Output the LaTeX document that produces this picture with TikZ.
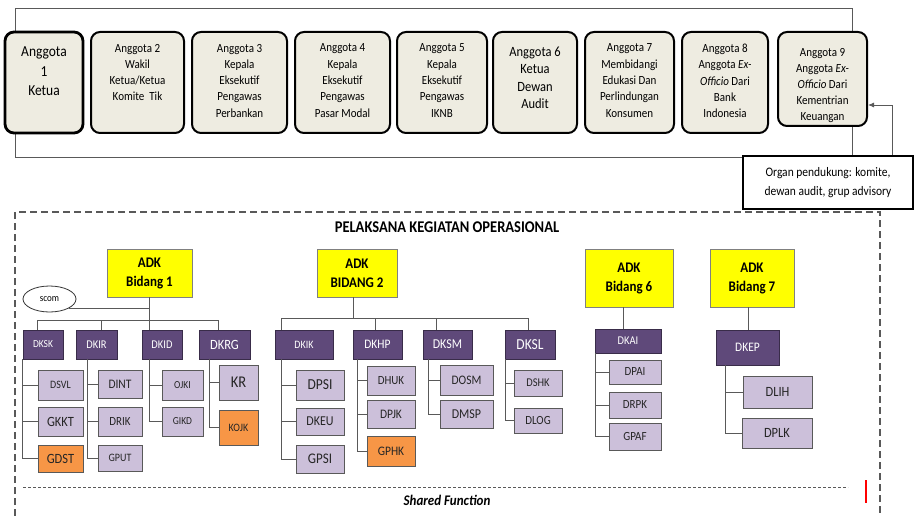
\documentclass[tikz,border=0pt]{standalone}
\usepackage{fontspec}
\setmainfont[Scale=1.13, FakeStretch=0.885]{Carlito}
\usepackage{tikz}
\usetikzlibrary{arrows.meta,shapes.geometric}

\definecolor{boxbeige}{HTML}{EEECE1}
\definecolor{adkyellow}{HTML}{FFFF00}
\definecolor{dkpurple}{HTML}{5F497A}
\definecolor{sublilac}{HTML}{CCC0DA}
\definecolor{suborange}{HTML}{F79646}
\definecolor{linegray}{HTML}{595959}

\begin{document}
\begin{tikzpicture}[x=1pt, y=-1pt,
  conn/.style={draw=linegray, line width=0.8pt},
  anggota/.style={draw=black, fill=boxbeige, rounded corners=9pt, line width=2pt, minimum height=101pt, inner sep=0pt},
  adkbox/.style={draw=gray, fill=adkyellow, line width=0.8pt, align=center, inner sep=0pt, font=\bfseries\fontsize{13}{19}\selectfont},
  dkbox/.style={draw=dkpurple!60!black, fill=dkpurple, text=white, line width=0.8pt, inner sep=0pt},
  subbox/.style={draw=linegray, fill=sublilac, line width=0.9pt, inner sep=0pt, text=black!85},
  subhot/.style={subbox, fill=suborange},
  fsz/.style={font=\fontsize{#1}{#1}\selectfont}]
\useasboundingbox (0,0) rectangle (915,516);
%%%%% Top board %%%%%
\node[draw=linegray, line width=0.8pt, minimum width=837pt, minimum height=149pt, inner sep=0pt] (board) at (433.5,82.5) {};
\node[anggota, line width=2.8pt, minimum width=78pt] (a1) at (44,82.5)
  {\parbox[c][71pt][t]{74pt}{\centering\fontsize{13.5}{19.5}\selectfont Anggota\\1\\Ketua}};
\node[anggota, minimum width=93pt] (a2) at (137.5,82.5)
  {\parbox[c][77pt][t]{88pt}{\centering\fontsize{11}{16.3}\selectfont Anggota 2\\Wakil\\Ketua/Ketua\\Komite\ \ Tik}};
\node[anggota, minimum width=95pt] (a3) at (239.5,82.5)
  {\parbox[c][77pt][t]{90pt}{\centering\fontsize{11}{16.3}\selectfont Anggota 3\\Kepala\\Eksekutif\\Pengawas\\Perbankan}};
\node[anggota, minimum width=95pt] (a4) at (342.5,82.5)
  {\parbox[c][77pt][t]{90pt}{\centering\fontsize{11}{16.3}\selectfont Anggota 4\\Kepala\\Eksekutif\\Pengawas\\Pasar Modal}};
\node[anggota, minimum width=90pt] (a5) at (442,82.5)
  {\parbox[c][77pt][t]{86pt}{\centering\fontsize{11}{16.3}\selectfont Anggota 5\\Kepala\\Eksekutif\\Pengawas\\IKNB}};
\node[anggota, minimum width=84pt] (a6) at (535,82.5)
  {\parbox[c][72pt][t]{80pt}{\centering\fontsize{12.5}{17.5}\selectfont Anggota 6\\Ketua\\Dewan\\Audit}};
\node[anggota, minimum width=89pt] (a7) at (629.5,82.5)
  {\parbox[c][77pt][t]{86pt}{\centering\fontsize{11}{16.3}\selectfont Anggota 7\\Membidangi\\Edukasi Dan\\Perlindungan\\Konsumen}};
\node[anggota, minimum width=86pt] (a8) at (725,82.5)
  {\parbox[c][77pt][t]{82pt}{\centering\fontsize{11}{16.3}\selectfont Anggota 8\\Anggota \textit{Ex-}\\\textit{Officio} Dari\\Bank\\Indonesia}};
\node[anggota, minimum width=89pt, minimum height=94pt] (a9) at (822.5,79)
  {\parbox[c][62pt][t]{85pt}{\centering\fontsize{11}{16}\selectfont Anggota 9\\Anggota \textit{Ex-}\\\textit{Officio} Dari\\Kementrian\\Keuangan}};
%%%%% Organ pendukung %%%%%
\node[draw=black, fill=white, line width=2.5pt, minimum width=170pt, minimum height=53pt, align=center,
  font=\fontsize{11.5}{19}\selectfont] (organ) at (828,182.5) {Organ pendukung: komite,\\dewan audit, grup advisory};
\draw[conn, -{Latex[length=6pt,width=5pt]}] ([xshift=-22pt]organ.north east) |- ([yshift=-26pt]a9.east);
%%%%% Pelaksana frame %%%%%
\draw[draw=linegray, line width=1.2pt, dash pattern=on 7pt off 4pt] (15,516) -- (15,212) -- (880,212) -- (880,516);
\node[font=\bfseries\fontsize{14.5}{14.5}\selectfont] (judul) at (447,227) {PELAKSANA KEGIATAN OPERASIONAL};
\draw[draw=linegray, line width=0.7pt, dash pattern=on 3pt off 2pt] (23,487) -- (848,487);
\node[font=\bfseries\itshape\fontsize{13}{13}\selectfont] (shared) at (447,500) {Shared Function};
\draw[red, line width=1.3pt] (866,480) -- (866,503);
%%%%% ADK Bidang 1 %%%%%
\node[adkbox, minimum width=85pt, minimum height=48pt] (adk1) at (149.5,273) {ADK\\Bidang 1};
\node[draw=black!80, line width=0.8pt, ellipse, minimum width=53pt, minimum height=26pt, inner sep=0pt, fsz=9] (scom) at (49.5,299) {scom};
\node[dkbox, minimum width=40pt, minimum height=29pt, fsz=9.5] (dksk) at (43,344.5) {DKSK};
\node[dkbox, minimum width=41pt, minimum height=29pt, fsz=10.5] (dkir) at (96.5,344.5) {DKIR};
\node[dkbox, minimum width=40pt, minimum height=29pt, fsz=10.5] (dkid) at (162,344.5) {DKID};
\node[dkbox, minimum width=51pt, minimum height=29pt, fsz=12.5] (dkrg) at (224.5,344.5) {DKRG};
\node[subbox, minimum width=45pt, minimum height=30pt, fsz=10] (dsvl) at (60.5,385) {DSVL};
\node[subbox, minimum width=45pt, minimum height=29pt, fsz=12.5] (gkkt) at (60.5,421.5) {GKKT};
\node[subhot, minimum width=45pt, minimum height=27pt, fsz=12.5] (gdst) at (60.5,458.5) {GDST};
\node[subbox, minimum width=44pt, minimum height=28pt, fsz=11.5] (dint) at (120,384) {DINT};
\node[subbox, minimum width=44pt, minimum height=29pt, fsz=11] (drik) at (120,421.5) {DRIK};
\node[subbox, minimum width=44pt, minimum height=26pt, fsz=10] (gput) at (120,458) {GPUT};
\node[subbox, minimum width=41pt, minimum height=30pt, fsz=9.5] (ojki) at (182.5,385) {OJKI};
\node[subbox, minimum width=41pt, minimum height=29pt, fsz=9.5] (gikd) at (182.5,421.5) {GIKD};
\node[subbox, minimum width=39pt, minimum height=35pt, fsz=14.5] (kr) at (238.5,382.5) {KR};
\node[subhot, minimum width=39pt, minimum height=35pt, fsz=10] (kojk) at (238.5,427.5) {KOJK};
\draw[conn] (adk1.south) -- ++(0,23) coordinate (bus1);
\draw[conn] (scom.south east) -- (scom.south east -| adk1.south);
\draw[conn] (bus1) -| ([xshift=15pt]dksk.north west);
\draw[conn] (bus1) -| ([xshift=26pt]dkir.north west);
\draw[conn] (bus1) -| ([xshift=8pt]dkid.north west);
\draw[conn] (bus1) -| ([xshift=20pt]dkrg.north west);
\draw[conn] (dksk.south west) |- (dsvl.west);
\draw[conn] (dksk.south west) |- (gkkt.west);
\draw[conn] (dksk.south west) |- (gdst.west);
\draw[conn] ([xshift=12pt]dkir.south west) |- (dint.west);
\draw[conn] ([xshift=12pt]dkir.south west) |- (drik.west);
\draw[conn] ([xshift=12pt]dkir.south west) |- (gput.west);
\draw[conn] ([xshift=8pt]dkid.south west) |- (ojki.west);
\draw[conn] ([xshift=8pt]dkid.south west) |- (gikd.west);
\draw[conn] ([xshift=11pt]dkrg.south west) |- (kr.west);
\draw[conn] ([xshift=11pt]dkrg.south west) |- (kojk.west);
%%%%% ADK Bidang 2 %%%%%
\node[adkbox, minimum width=80pt, minimum height=48pt] (adk2) at (357,273) {ADK\\BIDANG 2};
\node[dkbox, minimum width=58pt, minimum height=29pt, fsz=10] (dkik) at (304,344.5) {DKIK};
\node[dkbox, minimum width=49pt, minimum height=29pt, fsz=11.5] (dkhp) at (377.5,344.5) {DKHP};
\node[dkbox, minimum width=49pt, minimum height=29pt, fsz=12] (dksm) at (447.5,344.5) {DKSM};
\node[dkbox, minimum width=50pt, minimum height=29pt, fsz=13.5] (dksl) at (530,344.5) {DKSL};
\node[subbox, minimum width=48pt, minimum height=30pt, fsz=13.5] (dpsi) at (320,385) {DPSI};
\node[subbox, minimum width=48pt, minimum height=27pt, fsz=12] (dkeu) at (320,421.5) {DKEU};
\node[subbox, minimum width=48pt, minimum height=28pt, fsz=13] (gpsi) at (320,459) {GPSI};
\node[subbox, minimum width=48pt, minimum height=29pt, fsz=11] (dhuk) at (391,380.5) {DHUK};
\node[subbox, minimum width=48pt, minimum height=28pt, fsz=11.5] (dpjk) at (391,414) {DPJK};
\node[subhot, minimum width=48pt, minimum height=30pt, fsz=11.5] (gphk) at (391,451) {GPHK};
\node[subbox, minimum width=53pt, minimum height=30pt, fsz=11.5] (dosm) at (466.5,380) {DOSM};
\node[subbox, minimum width=53pt, minimum height=28pt, fsz=12] (dmsp) at (466.5,414) {DMSP};
\node[subbox, minimum width=48pt, minimum height=26pt, fsz=10.5] (dshk) at (538,383) {DSHK};
\node[subbox, minimum width=48pt, minimum height=25pt, fsz=11] (dlog) at (538,420.5) {DLOG};
\draw[conn] ([xshift=-4pt]adk2.south) -- ++(0,21) coordinate (bus2);
\draw[conn] (bus2) -| ([xshift=7pt]dkik.north west);
\draw[conn] (bus2) -| ([xshift=23pt]dkhp.north west);
\draw[conn] (bus2) -| ([xshift=14pt]dksm.north west);
\draw[conn] (bus2) -| ([xshift=24pt]dksl.north west);
\draw[conn] ([xshift=7pt]dkik.south west) |- (dpsi.west);
\draw[conn] ([xshift=7pt]dkik.south west) |- (dkeu.west);
\draw[conn] ([xshift=7pt]dkik.south west) |- (gpsi.west);
\draw[conn] ([xshift=5pt]dkhp.south west) |- (dhuk.west);
\draw[conn] ([xshift=5pt]dkhp.south west) |- (dpjk.west);
\draw[conn] ([xshift=5pt]dkhp.south west) |- (gphk.west);
\draw[conn] ([xshift=6pt]dksm.south west) |- (dosm.west);
\draw[conn] ([xshift=6pt]dksm.south west) |- (dmsp.west);
\draw[conn] ([xshift=1pt]dksl.south west) |- (dshk.west);
\draw[conn] ([xshift=1pt]dksl.south west) |- (dlog.west);
%%%%% ADK Bidang 6 %%%%%
\node[adkbox, minimum width=88pt, minimum height=58pt] (adk6) at (629,278) {ADK\\Bidang 6};
\node[dkbox, minimum width=66pt, minimum height=24pt, fsz=10.5] (dkai) at (628,341) {DKAI};
\node[subbox, minimum width=52pt, minimum height=24pt, fsz=11] (dpai) at (635,372) {DPAI};
\node[subbox, minimum width=52pt, minimum height=26pt, fsz=11] (drpk) at (635,405) {DRPK};
\node[subbox, minimum width=52pt, minimum height=27pt, fsz=11] (gpaf) at (635,436.5) {GPAF};
\draw[conn] ([xshift=-6pt]adk6.south) -- ([xshift=-6pt]adk6.south |- dkai.north);
\draw[conn] ([xshift=1pt]dkai.south west) |- (dpai.west);
\draw[conn] ([xshift=1pt]dkai.south west) |- (drpk.west);
\draw[conn] ([xshift=1pt]dkai.south west) |- (gpaf.west);
%%%%% ADK Bidang 7 %%%%%
\node[adkbox, minimum width=84pt, minimum height=58pt] (adk7) at (752,278) {ADK\\Bidang 7};
\node[dkbox, minimum width=63pt, minimum height=35pt, fsz=11.5] (dkep) at (747.5,347.5) {DKEP};
\node[subbox, minimum width=69pt, minimum height=32pt, fsz=12.5] (dlih) at (777.5,392) {DLIH};
\node[subbox, minimum width=70pt, minimum height=30pt, fsz=12.5] (dplk) at (777,433) {DPLK};
\draw[conn] ([xshift=-4pt]adk7.south) -- ([xshift=-4pt]adk7.south |- dkep.north);
\draw[conn] ([xshift=10pt]dkep.south west) |- (dlih.west);
\draw[conn] ([xshift=10pt]dkep.south west) |- (dplk.west);
\end{tikzpicture}
\end{document}
